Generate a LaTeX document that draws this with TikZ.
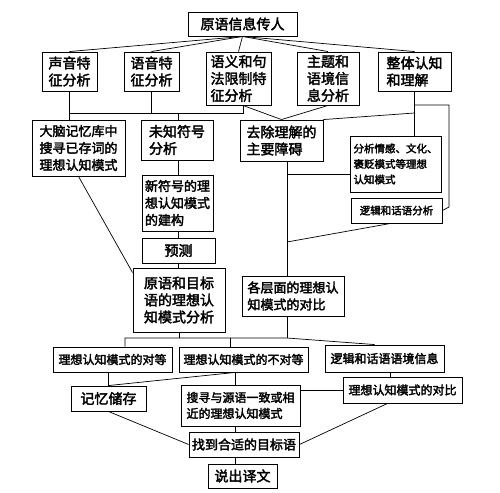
\documentclass[tikz,border=0pt]{standalone}
\usepackage{fontspec}
\setmainfont{Noto Sans CJK SC}[FakeBold=2.5]
\usetikzlibrary{positioning,calc}
\tikzset{
    block/.style={
        draw,
        rectangle,
        line width=0.9pt,
        align=left,
        inner sep=2pt
    },
    line/.style={
        draw,
        line width=0.7pt
    },
    txtA/.style={font=\fontsize{14}{17}\selectfont},
    txtB/.style={font=\fontsize{13}{17}\selectfont},
    txtC/.style={font=\fontsize{12}{16}\selectfont},
    txtD/.style={font=\fontsize{10.5}{15.5}\selectfont},
}
\begin{document}
\begin{tikzpicture}[x=1pt, y=-1pt]
    \useasboundingbox (0,0) rectangle (500,492);
    % blocks
    \node[block, txtA, minimum width=109pt, minimum height=24pt] (input) at (242.5,24) {原语信息传人};
    \node[block, txtA, minimum width=55pt, minimum height=39pt] (sound) at (69.5,71.5) {声音特\\征分析};
    \node[block, txtA, minimum width=55pt, minimum height=39pt] (phon) at (151.5,71.5) {语音特\\征分析};
    \node[block, txtA, minimum width=65pt, minimum height=53pt] (syn) at (238.5,78.5) {语义和句\\法限制特\\征分析};
    \node[block, txtA, minimum width=62pt, minimum height=53pt] (topic) at (328,78.5) {主题和\\语境信\\息分析};
    \node[block, txtA, minimum width=73pt, minimum height=39pt] (whole) at (414.5,71.5) {整体认知\\和理解};

    \node[block, txtB, minimum width=93pt, minimum height=56pt] (memory) at (78.5,148) {大脑记忆库中\\搜寻已存词的\\理想认知模式};
    \node[block, txtA, minimum width=72pt, minimum height=40pt] (unknown) at (177,140) {未知符号\\分析};
    \node[block, txtA, minimum width=83pt, minimum height=41pt] (barrier) at (281.5,140.5) {去除理解的\\主要障碍};
    \node[block, txtD, minimum width=91pt, minimum height=56pt] (emotion) at (395.5,164) {分析情感、文化、\\褒贬模式等理想\\认知模式};
    \node[block, txtD, minimum width=91pt, minimum height=25pt] (logic) at (396.5,210.5) {逻辑和话语分析};

    \node[block, txtB, minimum width=71pt, minimum height=56pt] (newsym) at (177.5,203) {新符号的理\\想认知模式\\的建构};
    \node[block, txtA, minimum width=73pt, minimum height=25pt] (predict) at (178.5,250.5) {预测};
    \node[block, txtA, minimum width=92pt, minimum height=64pt] (compare) at (179,300) {原语和目标\\语的理想认\\知模式分析};
    \node[block, txtB, minimum width=102pt, minimum height=40pt] (levels) at (293,296) {各层面的理想认\\知模式的对比};

    \node[block, txtC, minimum width=119pt, minimum height=25pt] (equal) at (112.5,359.5) {理想认知模式的对等};
    \node[block, txtC, minimum width=129pt, minimum height=25pt] (unequal) at (243.5,359.5) {理想认知模式的不对等};
    \node[block, txtC, minimum width=119pt, minimum height=27pt] (context) at (384.5,358.5) {逻辑和话语语境信息};

    \node[block, txtA, minimum width=75pt, minimum height=25pt] (store) at (108.5,398.5) {记忆储存};
    \node[block, txtC, minimum width=119pt, minimum height=41pt] (search) at (240.5,405.5) {搜寻与源语一致或相\\近的理想认知模式};
    \node[block, txtC, minimum width=119pt, minimum height=26pt] (contrast) at (402.5,390) {理想认知模式的对比};

    \node[block, txtB, minimum width=110pt, minimum height=25pt] (target) at (244,444.5) {找到合适的目标语};
    \node[block, txtA, minimum width=69pt, minimum height=24pt] (output) at (242.5,476) {说出译文};

    % junction coordinates
    \coordinate (bus1) at (243,113);
    \coordinate (rb1) at (449,105);
    \coordinate (rb2) at (449,207);
    \coordinate (colx) at (178,0);
    \coordinate (colm) at (287,0);
    \coordinate (j3) at (287,174);
    \coordinate (j4) at (287,242);
    \coordinate (busL) at (125,338);
    \coordinate (busM) at (230,338);
    \coordinate (bus2) at (287,338);
    \coordinate (spine) at (235,0);
    \coordinate (colr) at (390,0);

    % lines
    \foreach \n in {sound,phon,syn,topic,whole}
        \draw[line] (input.south) -- (\n.north);

    \draw[line] (sound.south) -- (sound.south |- memory.north);
    \draw[line] (sound.south |- bus1) -- (bus1) -- (bus1 |- syn.south);
    \draw[line] (phon.south) -- (phon.south |- bus1);
    \draw[line] (colx |- bus1) -- (colx |- unknown.north);
    \draw[line] (bus1 |- syn.south) -- (barrier.north);
    \draw[line] (topic.south) -- (barrier.north);

    \draw[line] (whole.south) -- (whole.south |- emotion.north);
    \draw[line] (whole.south |- bus1) -- (barrier.north east);
    \draw[line] (whole.south |- rb1) -- (rb1) -- (rb2) -- (logic.east);

    \draw[line] (barrier.south -| colm) -- (levels.north -| colm);
    \draw[line] (j3) -- (j3 -| emotion.west);
    \draw[line] ([xshift=-6pt]logic.south) -- (j4);

    \draw[line] (memory.south) -- ([yshift=-5pt]compare.north west);
    \foreach \a/\b in {unknown/newsym, newsym/predict, predict/compare}
        \draw[line] (\a.south -| colx) -- (\b.north -| colx);

    \draw[line] (compare.south) -- (compare.south |- bus2);
    \draw[line] (levels.south -| colm) -- (bus2);
    \draw[line] (busL |- equal.north) -- (busL) -- (bus2) -- ([xshift=-10pt]context.north);
    \draw[line] (busM) -- (busM |- unequal.north);

    \draw[line] (store.north |- equal.south) -- (store.north);
    \draw[line] (unequal.south -| spine) -- (store.north);
    \foreach \a/\b in {unequal/search, search/target, target/output}
        \draw[line] (\a.south -| spine) -- (\b.north -| spine);
    \draw[line] (context.south -| colr) -- (contrast.north -| colr);
    \draw[line] (contrast.west) -- (contrast.west -| search.east);
    \draw[line] (store.south) -- (target.west);
    \draw[line] ([xshift=-15pt]contrast.south) -- (target.east);
\end{tikzpicture}
\end{document}
